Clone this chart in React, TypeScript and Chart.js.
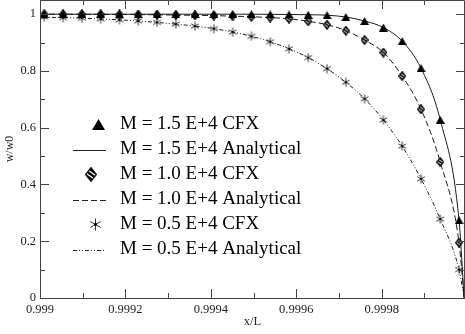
import React, { useEffect, useRef } from 'react';
import { Chart, registerables } from 'chart.js';

Chart.register(...registerables);

// ---- data ----
const xValues = [
  0.99901, 0.999054, 0.999098, 0.999142, 0.999186, 0.99923, 0.999274, 0.999318,
  0.999363, 0.999407, 0.999451, 0.999495, 0.999539, 0.999583, 0.999628, 0.999672,
  0.999716, 0.99976, 0.999804, 0.999848, 0.999892, 0.999937, 0.999981,
];
const m15Cfx = [
  1.0, 1.0, 1.0, 1.0, 1.0, 1.0, 1.0, 1.0, 1.0, 1.0, 1.0, 1.0, 0.9995, 0.999, 0.998,
  0.9965, 0.99, 0.976, 0.953, 0.905, 0.81, 0.628, 0.274,
];
const m10Cfx = [
  1.0, 0.9998, 0.9996, 0.9994, 0.999, 0.9985, 0.998, 0.997, 0.996, 0.995, 0.993,
  0.991, 0.988, 0.984, 0.975, 0.963, 0.942, 0.909, 0.865, 0.782, 0.665, 0.479, 0.195,
];
const m05Cfx = [
  0.99, 0.988, 0.986, 0.983, 0.98, 0.976, 0.971, 0.965, 0.958, 0.949, 0.937, 0.922,
  0.903, 0.878, 0.847, 0.808, 0.76, 0.702, 0.627, 0.535, 0.42, 0.278, 0.1,
];
const lineX = [
  0.999, 0.99901, 0.999054, 0.999098, 0.999142, 0.999186, 0.99923, 0.999274, 0.999318,
  0.999363, 0.999407, 0.999451, 0.999495, 0.999539, 0.999583, 0.999628, 0.999672,
  0.999716, 0.99976, 0.999804, 0.999848, 0.999892, 0.999937, 0.999981, 0.999993,
];
const m15Analytical = [
  1.0, 1.0, 1.0, 1.0, 1.0, 1.0, 1.0, 1.0, 1.0, 1.0, 1.0, 1.0, 1.0, 0.9995, 0.999, 0.998,
  0.9965, 0.99, 0.976, 0.953, 0.905, 0.81, 0.628, 0.274, 0.0,
];
const m10Analytical = [
  1.0, 1.0, 0.9998, 0.9996, 0.9994, 0.999, 0.9985, 0.998, 0.997, 0.996, 0.995, 0.993,
  0.991, 0.988, 0.984, 0.975, 0.963, 0.942, 0.909, 0.865, 0.782, 0.665, 0.479, 0.195, 0.0,
];
const m05Analytical = [
  0.992, 0.99, 0.988, 0.986, 0.983, 0.98, 0.976, 0.971, 0.965, 0.958, 0.949, 0.937, 0.922,
  0.903, 0.878, 0.847, 0.808, 0.76, 0.702, 0.627, 0.535, 0.42, 0.278, 0.1, 0.0,
];

const xMajorTicks = [0.999, 0.9992, 0.9994, 0.9996, 0.9998];
const xTickLabels = ['0.999', '0.9992', '0.9994', '0.9996', '0.9998'];
const xMinorTicks = [0.9991, 0.9993, 0.9995, 0.9997, 0.9999];
const yMajorTicks = [0, 0.2, 0.4, 0.6, 0.8, 1];
const yTickLabels = ['0', '0.2', '0.4', '0.6', '0.8', '1'];
const yMinorTicks = [0.1, 0.3, 0.5, 0.7, 0.9];

const legendLabels = [
  'M = 1.5 E+4 CFX',
  'M = 1.5 E+4 Analytical',
  'M = 1.0 E+4 CFX',
  'M = 1.0 E+4 Analytical',
  'M = 0.5 E+4 CFX',
  'M = 0.5 E+4 Analytical',
];

const FONT = '"Liberation Serif", "Times New Roman", serif';
const DASHED = [6, 3];
const DASH_DOT_DOT = [4, 2, 1, 2, 1, 2];

// ---- marker images ----
function makeCanvas(w: number, h: number) {
  const c = document.createElement('canvas');
  c.width = w;
  c.height = h;
  return c;
}
function triangleMarker(w: number, h: number) {
  const c = makeCanvas(w, h);
  const g = c.getContext('2d')!;
  g.fillStyle = '#000';
  g.beginPath();
  g.moveTo(w / 2, 0);
  g.lineTo(w, h);
  g.lineTo(0, h);
  g.closePath();
  g.fill();
  return c;
}
function diamondMarker(w: number, h: number) {
  const c = makeCanvas(w, h);
  const g = c.getContext('2d')!;
  const path = () => {
    g.beginPath();
    g.moveTo(w / 2, 0.6);
    g.lineTo(w - 0.6, h / 2);
    g.lineTo(w / 2, h - 0.6);
    g.lineTo(0.6, h / 2);
    g.closePath();
  };
  path();
  g.fillStyle = '#fff';
  g.fill();
  g.save();
  path();
  g.clip();
  g.strokeStyle = '#000';
  g.lineWidth = Math.max(1.6, w / 5);
  const step = h / 3.4;
  for (let i = -1; i <= 1; i++) {
    const off = i * step;
    g.beginPath();
    g.moveTo(-w, h / 2 + off - w * 1.5 * 0.7);
    g.lineTo(2 * w, h / 2 + off + w * 1.5 * 0.7);
    g.stroke();
  }
  g.restore();
  path();
  g.strokeStyle = '#111';
  g.lineWidth = 1.2;
  g.stroke();
  return c;
}
function starMarker(s: number) {
  const c = makeCanvas(s, s);
  const g = c.getContext('2d')!;
  const cx = s / 2;
  const r = s / 2 - 0.5;
  g.strokeStyle = '#333';
  g.lineWidth = 1;
  const angles = [90, 30, 150];
  for (const a of angles) {
    const rad = (a * Math.PI) / 180;
    g.beginPath();
    g.moveTo(cx + Math.cos(rad) * r, cx - Math.sin(rad) * r);
    g.lineTo(cx - Math.cos(rad) * r, cx + Math.sin(rad) * r);
    g.stroke();
  }
  g.fillStyle = '#000';
  g.beginPath();
  g.arc(cx, cx, Math.max(1, s / 9), 0, Math.PI * 2);
  g.fill();
  return c;
}

export default function App() {
  const ref = useRef<HTMLCanvasElement | null>(null);

  useEffect(() => {
    const canvas = ref.current;
    if (!canvas) return;

    const tri = triangleMarker(9, 8);
    const dia = diamondMarker(8, 10);
    const star = starMarker(10);
    const triL = triangleMarker(13, 11);
    const diaL = diamondMarker(12, 15);
    const starL = starMarker(13);

    const pts = (xs: number[], ys: number[]) => xs.map((x, i) => ({ x, y: ys[i] }));

    const decor = {
      id: 'decor',
      afterDraw(chart: any) {
        const { ctx, chartArea: a, scales } = chart;
        const xs = scales.x;
        const ys = scales.y;
        ctx.save();
        ctx.strokeStyle = '#444';
        ctx.lineWidth = 1;
        ctx.setLineDash([]);
        // frame
        ctx.beginPath();
        ctx.moveTo(a.left + 0.5, a.bottom + 0.5);
        ctx.lineTo(a.left + 0.5, a.top + 0.5);
        ctx.lineTo(a.right - 0.5, a.top + 0.5);
        ctx.lineTo(a.right - 0.5, a.bottom + 0.5);
        ctx.closePath();
        ctx.stroke();
        const xt = (v: number, len: number) => {
          const p = Math.round(xs.getPixelForValue(v)) + 0.5;
          ctx.beginPath();
          ctx.moveTo(p, a.bottom);
          ctx.lineTo(p, a.bottom - len);
          ctx.moveTo(p, a.top);
          ctx.lineTo(p, a.top + len);
          ctx.stroke();
        };
        const yt = (v: number, len: number) => {
          const p = Math.round(ys.getPixelForValue(v)) + 0.5;
          ctx.beginPath();
          ctx.moveTo(a.left, p);
          ctx.lineTo(a.left + len, p);
          ctx.moveTo(a.right, p);
          ctx.lineTo(a.right - len, p);
          ctx.stroke();
        };
        xMajorTicks.forEach((v) => xt(v, 9));
        xMinorTicks.forEach((v) => xt(v, 5));
        yMajorTicks.forEach((v) => yt(v, 9));
        yMinorTicks.forEach((v) => yt(v, 5));

        // legend
        const rows = [124.5, 149.5, 174.5, 199.5, 224.5, 249.5];
        ctx.font = `19px ${FONT}`;
        ctx.fillStyle = '#000';
        ctx.textBaseline = 'middle';
        ctx.textAlign = 'left';
        legendLabels.forEach((t, i) => ctx.fillText(t, 120, rows[i]));
        const img = (c: HTMLCanvasElement, cx: number, cy: number) =>
          ctx.drawImage(c, Math.round(cx - c.width / 2), Math.round(cy - c.height / 2));
        img(triL, 98, rows[0]);
        img(diaL, 91, rows[2]);
        img(starL, 95, rows[4]);
        const seg = (y: number, dash: number[]) => {
          ctx.setLineDash(dash);
          ctx.strokeStyle = '#222';
          ctx.beginPath();
          ctx.moveTo(73, Math.round(y) + 0.5);
          ctx.lineTo(106, Math.round(y) + 0.5);
          ctx.stroke();
        };
        seg(rows[1], []);
        seg(rows[3], DASHED);
        seg(rows[5], DASH_DOT_DOT);
        ctx.restore();
      },
    };

    const chart = new Chart(canvas, {
      type: 'scatter',
      data: {
        datasets: [
          { label: legendLabels[0], data: pts(xValues, m15Cfx), showLine: false, pointStyle: tri as any, pointRadius: 5 },
          { label: legendLabels[2], data: pts(xValues, m10Cfx), showLine: false, pointStyle: dia as any, pointRadius: 5 },
          { label: legendLabels[4], data: pts(xValues, m05Cfx), showLine: false, pointStyle: star as any, pointRadius: 5 },
          {
            label: legendLabels[1], data: pts(lineX, m15Analytical), showLine: true, pointRadius: 0,
            borderColor: '#1a1a1a', borderWidth: 1, cubicInterpolationMode: 'monotone',
          },
          {
            label: legendLabels[3], data: pts(lineX, m10Analytical), showLine: true, pointRadius: 0,
            borderColor: '#1a1a1a', borderWidth: 1, borderDash: DASHED, cubicInterpolationMode: 'monotone',
          },
          {
            label: legendLabels[5], data: pts(lineX, m05Analytical), showLine: true, pointRadius: 0,
            borderColor: '#1a1a1a', borderWidth: 1, borderDash: DASH_DOT_DOT, cubicInterpolationMode: 'monotone',
          },
        ],
      },
      options: {
        animation: false,
        responsive: false,
        events: [],
        layout: { padding: 0, autoPadding: false },
        plugins: { legend: { display: false }, tooltip: { enabled: false } },
        scales: {
          x: {
            type: 'linear',
            min: 0.999,
            max: 0.999995,
            grid: { display: false, drawTicks: false },
            border: { display: false },
            afterBuildTicks: (s: any) => {
              s.ticks = xMajorTicks.map((v) => ({ value: v }));
            },
            afterFit: (s: any) => {
              s.height = 36;
              s.paddingLeft = 0;
              s.paddingRight = 0;
            },
            ticks: {
              autoSkip: false,
              maxRotation: 0,
              padding: 4,
              color: '#222',
              font: { family: FONT, size: 12.5 },
              callback: (v: any) => {
                const i = xMajorTicks.findIndex((t) => Math.abs(t - v) < 1e-9);
                return i >= 0 ? xTickLabels[i] : '';
              },
            },
            title: {
              display: true,
              text: 'x/L',
              color: '#222',
              font: { family: FONT, size: 12.5 },
              padding: { top: 0, bottom: 5 },
            },
          },
          y: {
            type: 'linear',
            min: 0,
            max: 1.05,
            grid: { display: false, drawTicks: false },
            border: { display: false },
            afterBuildTicks: (s: any) => {
              s.ticks = yMajorTicks.map((v) => ({ value: v }));
            },
            afterFit: (s: any) => {
              s.width = 40;
              s.paddingTop = 0;
              s.paddingBottom = 0;
            },
            ticks: {
              autoSkip: false,
              padding: 4,
              color: '#222',
              font: { family: FONT, size: 12.5 },
              callback: (v: any) => {
                const i = yMajorTicks.findIndex((t) => Math.abs(t - v) < 1e-9);
                return i >= 0 ? yTickLabels[i] : '';
              },
            },
            title: {
              display: true,
              text: 'w/w0',
              color: '#222',
              font: { family: FONT, size: 12 },
              padding: { top: 3, bottom: 0 },
            },
          },
        },
      },
      plugins: [decor],
    } as any);

    return () => chart.destroy();
  }, []);

  return (
    <div style={{ position: 'fixed', left: 0, top: 0, width: 465, height: 334, background: '#fff' }}>
      <canvas ref={ref} width={465} height={334} style={{ display: 'block', width: 465, height: 334 }} />
    </div>
  );
}
